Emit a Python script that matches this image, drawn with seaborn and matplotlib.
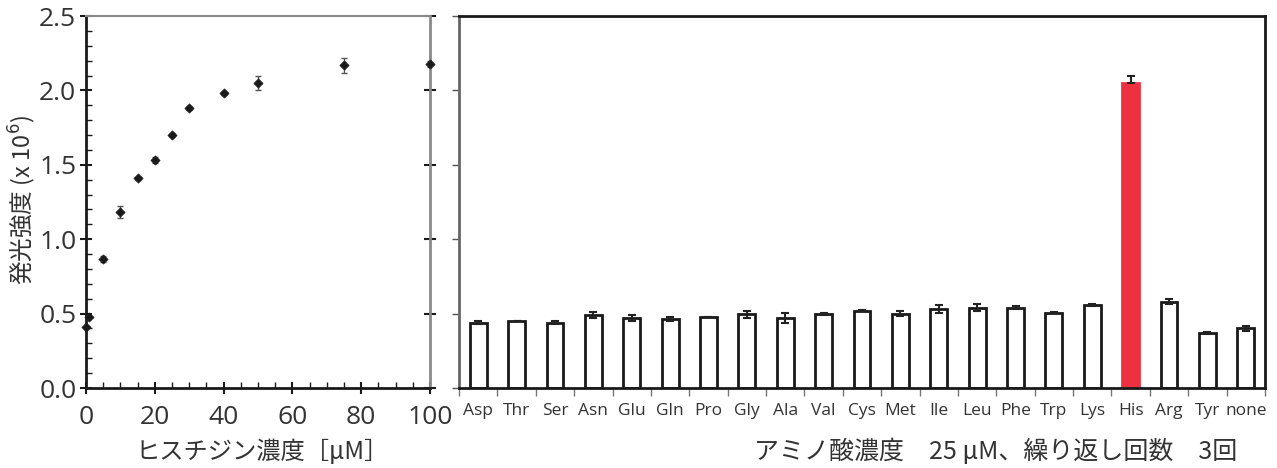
import numpy as np
import matplotlib
matplotlib.use("Agg")
import matplotlib.pyplot as plt
from matplotlib.ticker import MultipleLocator, FormatStrFormatter
import seaborn as sns

# Histidine titration: concentration (uM) vs luminescence (x10^6)
his_conc = [0, 1, 5, 10, 15, 20, 25, 30, 40, 50, 75, 100]
his_lum = [0.41, 0.48, 0.87, 1.18, 1.41, 1.53, 1.70, 1.88, 1.98, 2.05, 2.17, 2.18]
his_err = [0.0, 0.0, 0.02, 0.04, 0.01, 0.02, 0.015, 0.015, 0.01, 0.05, 0.05, 0.02]

# Amino acid screen at 25 uM, n = 3
amino = ["Asp", "Thr", "Ser", "Asn", "Glu", "Gln", "Pro", "Gly", "Ala", "Val",
         "Cys", "Met", "Ile", "Leu", "Phe", "Trp", "Lys", "His", "Arg", "Tyr", "none"]
amino_lum = [0.44, 0.45, 0.44, 0.49, 0.47, 0.465, 0.48, 0.495, 0.47, 0.50,
             0.52, 0.50, 0.53, 0.54, 0.54, 0.505, 0.555, 2.05, 0.58, 0.37, 0.40]
amino_err = [0.008, 0.0, 0.008, 0.022, 0.02, 0.015, 0.0, 0.025, 0.032, 0.007,
             0.005, 0.015, 0.025, 0.025, 0.008, 0.004, 0.007, 0.05, 0.018, 0.005, 0.02]

highlight = "His"
RED = "#EE3140"
INK = "#1a1a1a"
GREY = "#8a8a8a"
TXT = "#333333"

sns.set_theme(style="white")
plt.rcParams["font.family"] = ["Open Sans", "Noto Sans CJK JP", "DejaVu Sans"]
CJK = ["Noto Sans CJK JP", "Open Sans", "DejaVu Sans"]

W, H = 1277, 468
fig = plt.figure(figsize=(W / 100, H / 100), dpi=100)
ax1 = fig.add_axes([86 / W, 1 - 388 / H, (430 - 86) / W, 372 / H])
ax2 = fig.add_axes([459 / W, 1 - 388 / H, (1265 - 459) / W, 372 / H])

# ---- left: titration curve ----
ax1.errorbar(his_conc, his_lum, yerr=his_err, fmt="none", ecolor="#555555",
             elinewidth=1.0, capsize=2.5, capthick=1.0, zorder=2)
sns.scatterplot(x=his_conc, y=his_lum, marker="D", s=22, color=INK,
                edgecolor=INK, linewidth=0.5, ax=ax1, zorder=3, clip_on=False)
ax1.set_xlim(0, 100)
ax1.set_ylim(0, 2.5)
ax1.xaxis.set_major_locator(MultipleLocator(20))
ax1.xaxis.set_minor_locator(MultipleLocator(5))
ax1.yaxis.set_major_locator(MultipleLocator(0.5))
ax1.yaxis.set_minor_locator(MultipleLocator(0.1))
ax1.yaxis.set_major_formatter(FormatStrFormatter("%.1f"))
ax1.tick_params(axis="both", which="major", direction="inout", length=8, width=1.5,
                color=INK, labelsize=19, labelcolor=TXT, bottom=True, left=True)
ax1.tick_params(axis="both", which="minor", direction="in", length=4, width=1.0,
                color=INK, bottom=True, left=True)
ax1.tick_params(axis="y", which="major", right=True, pad=3)
ax1.tick_params(axis="x", which="major", pad=8)
for s in ("left", "bottom"):
    ax1.spines[s].set_color(INK)
    ax1.spines[s].set_linewidth(2.0)
ax1.spines["top"].set_color(GREY)
ax1.spines["top"].set_linewidth(1.5)
ax1.spines["right"].set_color(GREY)
ax1.spines["right"].set_linewidth(2.0)
ax1.set_xlabel("")
ax1.set_ylabel("")

# ---- right: amino acid selectivity bars ----
colors = [RED if a == highlight else "white" for a in amino]
sns.barplot(x=amino, y=amino_lum, hue=amino, palette=colors, legend=False,
            saturation=1, width=0.44, edgecolor=INK, linewidth=2.0, ax=ax2, zorder=2)
for a, patch in zip(amino, ax2.patches):
    if a == highlight:
        patch.set_edgecolor(RED)
err_lo = [0 if a == highlight else e for a, e in zip(amino, amino_err)]
ax2.errorbar(np.arange(len(amino)), amino_lum, yerr=[err_lo, amino_err], fmt="none",
             ecolor="#222222", elinewidth=1.5, capsize=3, capthick=1.5, zorder=3)
ax2.set_xlim(-0.5, len(amino) - 0.5)
ax2.set_ylim(0, 2.5)
ax2.yaxis.set_major_locator(MultipleLocator(0.5))
ax2.set_yticklabels([])
ax2.tick_params(axis="y", which="major", direction="out", length=5, width=1.0,
                color="#555555", left=True)
ax2.set_xticks(np.arange(len(amino)))
ax2.set_xticklabels(amino)
ax2.tick_params(axis="x", which="major", length=0, labelsize=12.5, labelcolor=TXT, pad=11)
ax2.set_xticks(np.arange(len(amino) + 1) - 0.5, minor=True)
ax2.tick_params(axis="x", which="minor", direction="out", length=6, width=1.0,
                color="#777777", bottom=True)
for s in ("top", "right", "bottom"):
    ax2.spines[s].set_color(INK)
    ax2.spines[s].set_linewidth(2.0)
ax2.spines["left"].set_color("#666666")
ax2.spines["left"].set_linewidth(2.0)
ax2.set_xlabel("")
ax2.set_ylabel("")

# axis titles
fig.text(22 / W, 1 - 200 / H, "発光強度 (x 10$^6$)", family=CJK, fontsize=17,
         color=TXT, rotation=90, ha="center", va="center")
fig.text(262 / W, 1 - 452 / H, "ヒスチジン濃度［μM］", family=CJK, fontsize=17.5,
         color=TXT, ha="center", va="center")
fig.text(996 / W, 1 - 452 / H, "アミノ酸濃度　25 μM、繰り返し回数　3回",
         family=CJK, fontsize=18, color=TXT, ha="center", va="center")

fig.savefig("out.png", dpi=100, facecolor="white")
